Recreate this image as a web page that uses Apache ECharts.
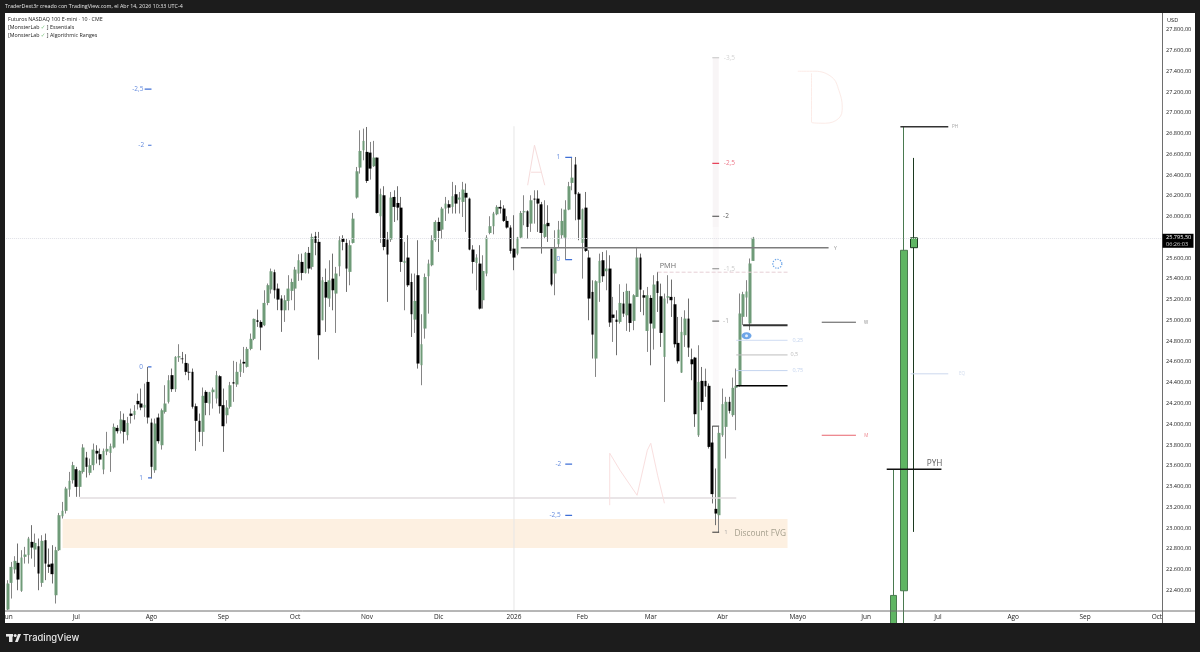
<!DOCTYPE html>
<html><head><meta charset="utf-8">
<script src="https://cdn.jsdelivr.net/npm/echarts@6/dist/echarts.min.js"></script>
<style>html,body{margin:0;padding:0;background:#1e1e1e}#c{width:1200px;height:652px}</style>
</head><body><div id="c"></div>
<script>
const BAR_SLOTS = 338;
const monthTicks = {0:'Jun',20:'Jul',42:'Ago',63:'Sep',84:'Oct',105:'Nov',126:'Dic',148:'2026',168:'Feb',188:'Mar',209:'Abr',231:'Mayo',251:'Jun',272:'Jul',294:'Ago',315:'Sep',336:'Oct'};
const opens = [
22214,22471,22600,22664,22394,22722,22738,22866,22792,22824,
22471,22882,22648,22657,22352,22786,23113,23165,23370,23460,
23566,23396,23540,23678,23531,23605,23743,23711,23563,23736,
23723,23775,23964,23935,24038,23894,24102,24089,24224,24199,
24160,24407,24015,23556,24064,23797,24118,24215,24472,24337,
24642,24632,24590,24504,24504,24173,24032,23926,24311,24199,
24308,24247,24462,24183,24086,24167,24404,24382,24504,24600,
24552,24725,24822,25001,24985,24953,25168,25297,25464,25306,
25210,25097,25187,25284,25306,25451,25563,25457,25650,25515,
25810,25756,25001,25370,25210,25402,25258,25521,25788,25746,
25467,25746,26183,26472,26639,26623,26616,26485,26568,26003,
26205,25778,25778,26189,26131,26086,25553,25605,25370,25007,
25435,24568,24921,25425,25531,25772,25948,25874,26077,26119,
26093,26215,26163,26141,26228,26173,25682,25553,25547,25194,
25451,25842,25907,26022,26093,26077,25958,25894,25691,25643,
25797,26041,26051,25932,26173,26173,26118,25804,25939,25691,
25451,25733,25820,25797,26067,26324,26501,26221,25746,26086,
25605,25274,24632,25361,25579,25473,25499,25056,25007,24985,
25162,25049,25162,24995,25226,25605,25242,24898,25216,24921,
25377,25232,24648,25219,25226,25155,24783,24497,24857,25017,
24625,24641,23893,24417,24417,24369,23823,23184,23123,23894,
23974,24215,24087,24350,24369,25034,25220,24970,25573];
const closes = [
22465,22625,22683,22503,22715,22744,22898,22811,22856,22561,
22876,22657,22625,22555,22786,23123,23165,23380,23454,23605,
23396,23550,23775,23589,23605,23755,23717,23659,23743,23762,
23788,23974,23932,24045,23926,24012,24080,24128,24192,24160,
24186,24064,23589,24006,23836,24134,24199,24423,24337,24648,
24655,24626,24504,24497,24167,24032,23926,24273,24205,24308,
24333,24472,24173,23980,24160,24375,24391,24504,24584,24584,
24725,24822,25014,24985,24931,25168,25339,25473,25290,25200,
25097,25194,25306,25370,25489,25579,25457,25650,25499,25804,
25746,24857,25386,25219,25386,25290,25451,25772,25756,25499,
25724,25980,26436,26632,26729,26343,26462,26568,26035,26215,
25707,25634,26183,26093,26086,25563,25573,25338,25059,25187,
24584,24770,25418,25547,25772,25948,25862,26077,26125,26086,
26196,26125,26183,26260,26183,25682,25563,25605,25113,25476,
25797,25907,26029,26093,26077,25958,25894,25669,25605,25797,
26035,26051,25900,26157,26163,26125,25842,25926,25907,25345,
25701,25874,25958,26067,26292,26375,26215,25971,26070,25669,
25210,24863,25377,25573,25425,25499,24979,25024,24985,25168,
25065,25284,24975,25242,25605,25296,25219,25242,24969,25345,
25264,24879,25210,25232,25194,24770,24606,24889,25017,24738,
24577,24096,24407,24214,24365,23781,23326,23139,23916,24193,
24215,24128,24350,24369,25066,25252,25278,25548,25795.5];
const lows = [
22208,22320,22561,22400,22384,22657,22657,22705,22625,22400,
22433,22497,22567,22465,22272,22779,23091,23139,23300,23428,
23300,23300,23524,23486,23508,23556,23621,23605,23518,23701,
23540,23765,23910,23910,23813,23845,24006,24045,24141,24134,
24070,24006,23476,23531,23813,23755,24102,24199,24311,24311,
24600,24584,24472,24423,24150,23743,23829,23788,24086,24086,
24150,24199,24102,23733,24006,24150,24215,24359,24455,24494,
24545,24712,24809,24937,24712,24944,25146,25258,25210,25098,
24889,24985,25097,25194,25097,25380,25386,25451,25451,25489,
25627,24622,25001,24889,25130,25097,24879,25425,25675,25274,
25338,25740,26173,26414,26542,26324,26356,26478,26029,25746,
25675,25178,25756,25948,25964,25467,25097,25322,24840,24879,
24535,24375,24824,25065,25521,25756,25659,25788,25958,26029,
26029,26029,26029,25996,25852,25675,25451,25290,25104,25113,
25425,25829,25829,26013,26029,25948,25884,25643,25483,25627,
25788,25916,25788,25852,25932,25852,25643,25788,25756,25329,
25242,25701,25788,25585,26061,26253,25964,25772,25402,25659,
25001,24632,24455,25178,25370,25290,24937,24792,24664,24969,
25033,24898,24889,24905,25226,25081,25049,24696,24567,24718,
25081,24744,24214,25162,25033,24738,24584,24494,24744,24648,
24423,23974,23877,24134,24263,23765,23236,23027,22959,23878,
23669,24103,24071,23942,24360,24954,25034,24905,25573];
const highs = [
22497,22673,22728,22850,22786,22818,22914,23027,22946,22898,
22930,22946,22802,22834,22818,23145,23251,23396,23540,23637,
23589,23556,23807,23733,23669,23813,23797,23765,23765,23926,
23813,24006,23990,24125,24102,24070,24150,24183,24295,24343,
24391,24552,24054,24054,24102,24150,24375,24472,24536,24655,
24770,24696,24674,24584,24536,24199,24102,24353,24327,24311,
24353,24513,24472,24343,24231,24407,24610,24600,24623,24744,
24744,24873,25017,25104,25001,25290,25355,25499,25489,25355,
25242,25242,25435,25402,25515,25637,25643,25659,25707,25836,
25852,25852,25418,25499,25579,25643,25515,25810,25820,25788,
25772,26035,26478,26831,26847,26863,26719,26729,26568,26269,
26292,25852,26237,26253,26292,26189,25756,25820,25451,25451,
25772,25059,25451,25585,25820,25964,25990,26093,26189,26157,
26334,26302,26237,26334,26318,26183,25724,25637,25724,25627,
25820,26003,26045,26109,26157,26109,26003,25916,26013,25804,
26054,26205,26061,26205,26253,26253,26141,26157,26109,25691,
25868,25958,26077,26157,26334,26568,26574,26237,26077,26237,
25675,25386,25386,25643,25659,25675,25627,25226,25097,25348,
25274,25354,25284,25252,25707,25643,25290,25322,25242,25435,
25467,25354,25258,25435,25393,25226,25033,25033,25097,25210,
24728,24648,24760,24551,24535,24392,23981,23573,23974,24343,
24263,24263,24449,24536,25259,25275,25387,25596,25804];
const htfSlots = [259,262,265];
const htfOpens = [22000,22395,25700];
const htfCloses = [22350,25675,25795];
const htfLows = [22000,22000,22962];
const htfHighs = [23566,26870,26565];
const lastPrice = 25795.5;

const categories = Array.from({length:BAR_SLOTS},(_,i)=>monthTicks[i]||'');
const FONT = '"Open Sans","Noto Sans",sans-serif';
const BLUE='#3f6fd6', PINK='#f6dcdc';
const series = [];

function line(points,color,width,type,smooth,z){
  series.push({type:'line',data:points,symbol:'none',silent:true,animation:false,z:z||5,smooth:smooth||false,
    lineStyle:{color,width:width||1,type:type||'solid'}});
}
function seg(a,b,p,color,width,type){ line([[a,p],[b,p]],color,width,type); }

// wicks, then bodies
series.push({type:'candlestick',barWidth:1,silent:true,animation:false,z:2,
  itemStyle:{color:'#858585',color0:'#6e6e6e',borderColor:'#858585',borderColor0:'#6e6e6e',borderWidth:1},
  data:opens.map((o,i)=>[closes[i],closes[i],lows[i],highs[i]])});
series.push({type:'candlestick',barWidth:3.2,silent:true,animation:false,z:3,
  itemStyle:{color:'#6f9b78',color0:'#000000',borderWidth:0},
  data:opens.map((o,i)=>[o,closes[i],Math.min(o,closes[i]),Math.max(o,closes[i])]),
  markArea:{silent:true,animation:false,itemStyle:{color:'#fdf0e1'},z:1,
    data:[[{xAxis:15.9,yAxis:23087},{xAxis:228.3,yAxis:22808}]]},
  markLine:{silent:true,animation:false,symbol:'none',label:{show:false},
    lineStyle:{color:'#dfe0e6',width:1,type:'dotted'},data:[{yAxis:lastPrice}]}
});
// higher-timeframe candles on the right
const htfData = Array.from({length:htfSlots[2]+1},()=>['-','-','-','-']);
htfSlots.forEach((s,k)=>{
  htfData[s]={value:[htfOpens[k],htfCloses[k],htfLows[k],htfHighs[k]],
    itemStyle:{color:'#5fb563',borderColor:k===2?'#1c3a20':'#4a7a50',borderWidth:1}};
});
series.push({type:'candlestick',barWidth:7,silent:true,animation:false,z:3,data:htfData,
  itemStyle:{color:'#5fb563',color0:'#5fb563',borderColor:'#4a7a50',borderColor0:'#4a7a50'}});

// vertical guide lines
line([[148.2,26870],[148.2,22210]],'#e6e6e6',1,'solid',false,1);
line([[207.2,27530],[207.2,25900]],'#f8f5f6',6,'solid',false,1);
line([[207.2,25900],[207.2,24000]],'#fbf9fa',6,'solid',false,1);

// horizontal drawings
seg(149.7,240.2,25700,'#7c7c7c',1.4);
seg(190.3,228.3,25464,'#e6cfd6',1,'dashed');
seg(238.2,248.4,24982,'#555555',1);
seg(238.2,248.4,23893,'#e8646e',1);
seg(215.1,228.3,24953,'#333333',1.8);
seg(213.1,228.3,24370,'#000000',1.5);
seg(213.1,228.3,24808,'#cfdcf2',1);
seg(213.1,228.3,24667,'#bdbdbd',1);
seg(213.1,228.3,24516,'#c4d4ef',1);
seg(20.8,213.1,23289,'#e2dcdf',1.5);
seg(261.3,275,26865,'#333333',1.5);
seg(256.9,273.2,23566,'#111111',1.5);
seg(263.5,275,24485,'#cdd8ee',1);

// fibonacci range ticks
seg(40.4,41.9,27227,BLUE,1.2);
seg(40.6,41.9,26687,BLUE,1.2);
seg(41,42.2,24551,BLUE,1.2);
seg(41,42.2,23482,BLUE,1.2);
seg(163.1,165.1,26570,BLUE,1.2);
seg(163.1,165.1,25585,BLUE,1.2);
seg(162.8,164.9,23614,BLUE,1.2);
seg(162.8,164.9,23122,BLUE,1.2);
seg(206,208.2,27530,'#c4c4c4',1.2);
seg(206,208.2,26513,'#e8435a',1.2);
seg(206,208.2,26003,'#444444',1.2);
seg(206,208.2,25497,'#888888',1.2);
seg(206,208.2,24992,'#777777',1.2);
seg(206,208.2,23981,'#333333',1);
seg(206,208.2,22959,'#333333',1);

// hand-drawn letters
line([[152,26302],[154,26687],[156.7,26302]],PINK,1);
seg(152.9,155.8,26427,PINK,1);
line([[176.2,23219],[175.7,23720],[179.2,23556],[183.6,23315],[186.5,23749],[187.9,23816],[190,23508],[191.7,23238]],'#f9dfdf',1);
line([[230.9,27400],[236.1,27400],[240.5,27342],[242.9,27217],[244.3,27053],[242.6,26947],[238.5,26899],[235.3,26909],[235.3,27381]],'#fcebe7',1,'solid',0.4);

// text notes
const notes = [
 [38.4,27227,'-2,5',BLUE,6.5],[39.2,26687,'-2',BLUE,6.5],[39.2,24551,'0',BLUE,6.5],[39.2,23482,'1',BLUE,6.5],
 [161.3,26570,'1',BLUE,6.5],[161.3,25585,'0',BLUE,6.5],[161,23614,'-2',BLUE,6.5],[160.2,23122,'-2,5',BLUE,6.5],
 [211,27530,'-3,5','#c9c9c9',6.5],[211,26513,'-2,5','#e8546a',6.5],[210,26003,'-2','#333333',6.5],
 [211,25497,'-1,5','#bdbdbd',6.5],[210,24992,'-1','#9a9a9a',6.5],[209.8,22959,'1','#999999',6],
 [192.9,25521,'PMH','#444444',7.3],[219.8,22949,'Discount FVG','#8f8b78',8.3],
 [230.6,24808,'0,25','#b5c8ea',5.5],[230.3,24667,'0,5','#aaaaaa',5.5],[230.6,24516,'0,75','#b5c8ea',5.5],
 [242.3,25695,'Y','#777777',5],[250.5,24982,'W','#666666',4.5],[250.5,23893,'M','#e8646e',4.5],
 [277.3,26865,'PH','#888888',4.5],[278.5,24485,'EQ','#c8d4ea',4.5],[270.5,23623,'PYH','#333333',8.3]
];
series.push({type:'scatter',symbolSize:1,silent:true,animation:false,z:6,itemStyle:{color:'transparent'},
  data:notes.map(n=>({value:[n[0],n[1]],label:{show:true,position:'inside',formatter:n[2],color:n[3],fontSize:n[4],fontFamily:FONT}}))});
// status markers
series.push({type:'scatter',symbolSize:9,silent:true,animation:false,z:7,
  itemStyle:{color:'transparent',borderColor:'#4a90e2',borderWidth:1.3,borderType:'dotted'},data:[[225.2,25545]]});
series.push({type:'scatter',symbolSize:[10,7],silent:true,animation:false,z:7,symbol:'circle',
  itemStyle:{color:'#4a90e2'},data:[[216.3,24852]]});
series.push({type:'scatter',symbolSize:3,silent:true,animation:false,z:8,
  itemStyle:{color:'#ffffff'},data:[[216.3,24852]]});

const fmt = v => v.toLocaleString('de-DE',{minimumFractionDigits:2,maximumFractionDigits:2});
const DARK='#1c1c1c';
const chromeText=(x,y,t,fill,size,extra)=>({type:'text',x,y,z:120,silent:true,
  style:Object.assign({text:t,fill,fontSize:size,fontFamily:FONT,verticalAlign:'middle'},extra||{})});

const chart = echarts.init(document.getElementById('c'),null,{renderer:'canvas'});
chart.setOption({
  backgroundColor:'#ffffff',animation:false,
  grid:{left:5,top:13,width:1157,height:598,containLabel:false},
  xAxis:{type:'category',data:categories,boundaryGap:true,
    axisLine:{show:false},axisTick:{show:false},splitLine:{show:false},
    axisLabel:{interval:(i)=>monthTicks[i]!==undefined,color:'#222222',fontSize:6.5,fontFamily:FONT,margin:3,hideOverlap:false,showMinLabel:true,showMaxLabel:true}},
  yAxis:{type:'value',position:'right',min:22200,max:27961,interval:200,scale:true,
    axisLine:{show:false},axisTick:{show:false},splitLine:{show:false},
    axisLabel:{color:'#222222',fontSize:5.6,fontFamily:FONT,margin:4,showMinLabel:false,showMaxLabel:false,formatter:fmt}},
  series,
  graphic:{elements:[
    {type:'rect',shape:{x:0,y:0,width:1200,height:13},style:{fill:DARK},z:110,silent:true},
    {type:'rect',shape:{x:0,y:623,width:1200,height:29},style:{fill:DARK},z:110,silent:true},
    {type:'rect',shape:{x:0,y:0,width:5,height:652},style:{fill:DARK},z:110,silent:true},
    {type:'rect',shape:{x:1195,y:0,width:5,height:652},style:{fill:DARK},z:110,silent:true},
    {type:'line',shape:{x1:5,y1:611,x2:1195,y2:611},style:{stroke:'#6e6e6e',lineWidth:1},z:100,silent:true},
    {type:'line',shape:{x1:1162.5,y1:13,x2:1162.5,y2:623},style:{stroke:'#6e6e6e',lineWidth:1},z:100,silent:true},
    chromeText(5,6.5,'TraderDext3r creado con TradingView.com, el Abr 14, 2026 10:33 UTC-4','#e6e6e6',5.35),
    chromeText(8,19.5,'Futuros NASDAQ 100 E-mini · 10 · CME','#222222',5.3),
    {type:'text',x:8,y:27.5,z:120,silent:true,style:{text:'{a|[MonsterLab }{b|✓}{a| ] Essentials}',verticalAlign:'middle',rich:{a:{fill:'#222222',fontSize:5.3,fontFamily:FONT},b:{fill:'#5fb563',fontSize:5.6,fontFamily:'DejaVu Sans'}}}},
    {type:'text',x:8,y:35.5,z:120,silent:true,style:{text:'{a|[MonsterLab }{b|✓}{a| ] Algorithmic Ranges}',verticalAlign:'middle',rich:{a:{fill:'#222222',fontSize:5.3,fontFamily:FONT},b:{fill:'#5fb563',fontSize:5.6,fontFamily:'DejaVu Sans'}}}},
    chromeText(1167,20,'USD','#222222',5.6),
    {type:'rect',shape:{x:6,y:634,width:7,height:2.6},style:{fill:'#e8e8e8'},z:120,silent:true},
    {type:'rect',shape:{x:9,y:636,width:3.5,height:6},style:{fill:'#e8e8e8'},z:120,silent:true},
    {type:'circle',shape:{cx:15.2,cy:635.4,r:1.5},style:{fill:'#e8e8e8'},z:120,silent:true},
    {type:'polygon',shape:{points:[[15,642],[18,634],[21,634],[17.8,642]]},style:{fill:'#e8e8e8'},z:120,silent:true},
    chromeText(23,638.3,'TradingView','#e8e8e8',9.4,{fontFamily:'Inter,"Noto Sans",sans-serif',fontWeight:500})
  ]}
});
const py = chart.convertToPixel({yAxisIndex:0},lastPrice);
chart.setOption({graphic:{elements:[
  {type:'rect',id:'tag',shape:{x:1162.5,y:py-4,width:31,height:14},style:{fill:'#000000'},z:115,silent:true},
  Object.assign({id:'tag1'},chromeText(1166,py,fmt(lastPrice),'#ffffff',5.6)),
  Object.assign({id:'tag2'},chromeText(1166,py+6.5,'06:26:03','#d0d0d0',5.6))
]}});
</script></body></html>
